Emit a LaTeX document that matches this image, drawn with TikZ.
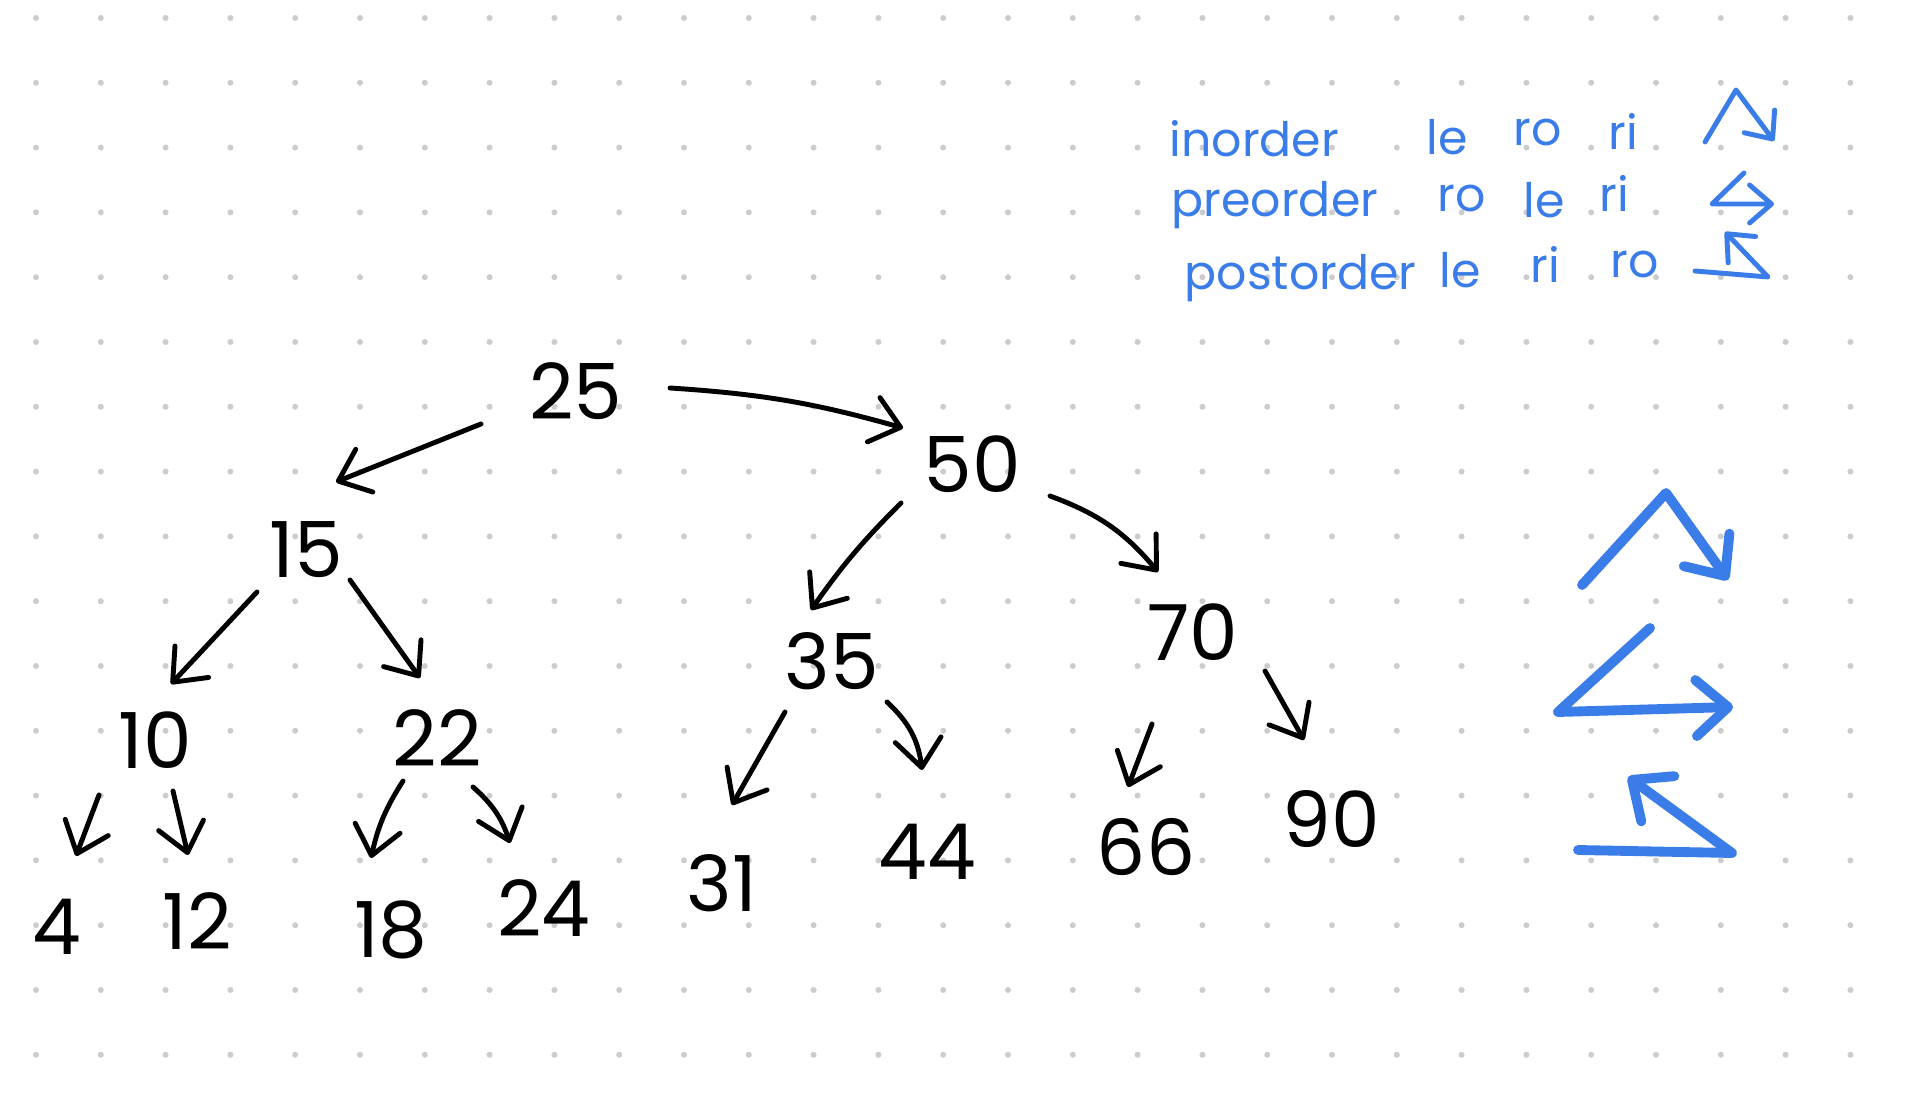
\documentclass[tikz,border=0pt]{standalone}
\usepackage{fontspec}
\setmainfont{Poppins}
\usetikzlibrary{arrows.meta}
\definecolor{dotgrey}{RGB}{204,204,204}
\definecolor{penblue}{RGB}{58,124,232}

\begin{document}
\begin{tikzpicture}
\tikzstyle{every node}+=[inner sep=0pt]
\tikzstyle{key}=[font=\fontsize{22}{26}\selectfont]
\tikzstyle{word}=[penblue, anchor=base west, font=\fontsize{13.5}{16}\selectfont]
\tikzstyle{edge}=[black, line width=1.4pt, line cap=round, line join=round, -{Straight Barb[length=2.8mm,width=4.6mm,round]}]
\tikzstyle{sign}=[penblue, line width=1.4pt, line cap=round, line join=round, -{Straight Barb[length=2.2mm,width=3.8mm,round]}]
\tikzstyle{bigsign}=[penblue, line width=2.8pt, line cap=round, line join=round, -{Straight Barb[length=3.2mm,width=5.6mm,round]}]
\useasboundingbox (0,0) rectangle (19.06,-11.04);
\fill [white] (0,0) rectangle (19.06,-11.04);
% dot paper
\foreach \i in {0,...,28}
  \foreach \j in {0,...,16}
    \fill [dotgrey] (0.36+0.648*\i,-0.18-0.648*\j) circle (0.03);
% keys
\node [key] (n25) at (5.76,-3.91) {25};
\node [key] (n50) at (9.72,-4.64) {50};
\node [key] (n15) at (3.06,-5.50) {15};
\node [key] (n35) at (8.32,-6.61) {35};
\node [key] (n70) at (11.93,-6.32) {70};
\node [key] (n10) at (1.55,-7.40) {10};
\node [key] (n22) at (4.37,-7.38) {22};
\node [key] (n4) at (0.57,-9.27) {4};
\node [key] (n12) at (1.97,-9.21) {12};
\node [key] (n18) at (3.91,-9.30) {18};
\node [key] (n24) at (5.44,-9.08) {24};
\node [key] (n31) at (7.22,-8.83) {31};
\node [key] (n44) at (9.27,-8.52) {44};
\node [key] (n66) at (11.46,-8.47) {66};
\node [key] (n90) at (13.31,-8.19) {90};
% edges
\draw [edge] ([shift={(-0.95,-0.33)}]n25.center) -- ([shift={(0.30,0.68)}]n15.center);
\draw [edge] ([shift={(0.94,0.03)}]n25.center) to [bend left=6] ([shift={(-0.69,0.36)}]n50.center);
\draw [edge] ([shift={(-0.71,-0.39)}]n50.center) to [bend right=5] ([shift={(-0.21,0.51)}]n35.center);
\draw [edge] ([shift={(0.78,-0.32)}]n50.center) to [bend left=15] ([shift={(-0.35,0.60)}]n70.center);
\draw [edge] ([shift={(-0.49,-0.42)}]n15.center) -- ([shift={(0.16,0.56)}]n10.center);
\draw [edge] ([shift={(0.44,-0.30)}]n15.center) -- ([shift={(-0.17,0.60)}]n22.center);
\draw [edge] ([shift={(-0.47,-0.51)}]n35.center) -- ([shift={(0.10,0.78)}]n31.center);
\draw [edge] ([shift={(0.55,-0.41)}]n35.center) to [bend left=20] ([shift={(-0.05,0.82)}]n44.center);
\draw [edge] ([shift={(-0.41,-0.92)}]n70.center) -- ([shift={(-0.18,0.60)}]n66.center);
\draw [edge] ([shift={(0.72,-0.39)}]n70.center) -- ([shift={(-0.27,0.79)}]n90.center);
\draw [edge] ([shift={(-0.56,-0.55)}]n10.center) -- ([shift={(0.19,0.71)}]n4.center);
\draw [edge] ([shift={(0.18,-0.51)}]n10.center) -- ([shift={(-0.09,0.66)}]n12.center);
\draw [edge] ([shift={(-0.34,-0.43)}]n22.center) to [bend right=10] ([shift={(-0.20,0.72)}]n18.center);
\draw [edge] ([shift={(0.36,-0.49)}]n22.center) to [bend left=15] ([shift={(-0.34,0.65)}]n24.center);
% traversal orders
\node [word] (inorder) at (11.69,-1.57) {inorder};
\node [word] (inle) at (14.26,-1.55) {le};
\node [word] (inro) at (15.13,-1.46) {ro};
\node [word] (inri) at (16.08,-1.50) {ri};
\node [word] (preorder) at (11.71,-2.17) {preorder};
\node [word] (prero) at (14.37,-2.12) {ro};
\node [word] (prele) at (15.23,-2.18) {le};
\node [word] (preri) at (15.99,-2.12) {ri};
\node [word] (postorder) at (11.84,-2.90) {postorder};
\node [word] (postle) at (14.39,-2.88) {le};
\node [word] (postri) at (15.30,-2.83) {ri};
\node [word] (postro) at (16.10,-2.78) {ro};
% small signs
\draw [sign] (17.05,-1.42) -- (17.36,-0.90) -- (17.74,-1.41);
\draw [sign] (17.44,-1.73) -- (17.12,-2.04) -- (17.74,-2.04);
\draw [sign] (16.95,-2.71) -- (17.68,-2.77) -- (17.25,-2.32);
% big signs
\draw [bigsign] (15.82,-5.85) -- (16.66,-4.93) -- (17.28,-5.80);
\draw [bigsign] (16.50,-6.28) -- (15.58,-7.12) -- (17.33,-7.07);
\draw [bigsign] (15.78,-8.50) -- (17.32,-8.53) -- (16.28,-7.77);
\end{tikzpicture}
\end{document}
